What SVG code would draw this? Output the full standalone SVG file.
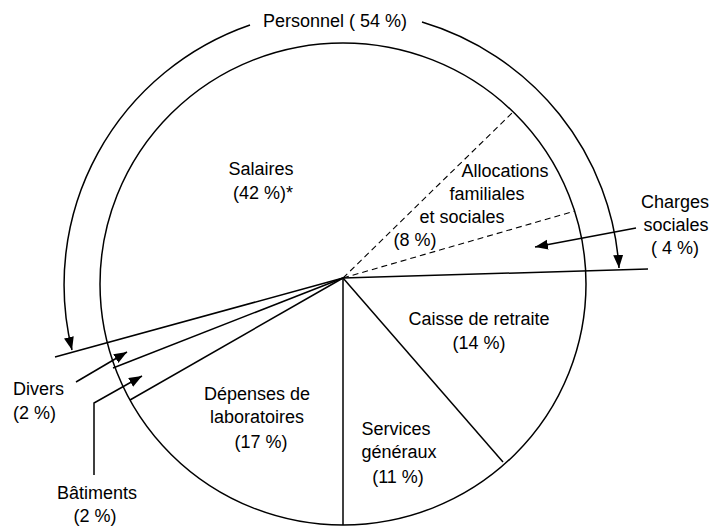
<svg xmlns="http://www.w3.org/2000/svg" width="715" height="528" viewBox="0 0 715 528">
  <style>
    text { font-family: "Liberation Sans", Arial, sans-serif; font-size: 18px; fill: #000; }
    .c { text-anchor: middle; }
    .s { text-anchor: start; }
    .ln { fill: none; stroke: #000; stroke-width: 1.5; }
    .dash { fill: none; stroke: #000; stroke-width: 1.1; stroke-dasharray: 6 4; }
    .arr { marker-end: url(#ah); }
  </style>
  <defs>
    <marker id="ah" markerUnits="userSpaceOnUse" markerWidth="14" markerHeight="12" refX="13" refY="5" orient="auto">
      <path d="M0,0 L13,5 L0,10 Z" fill="#000"/>
    </marker>
  </defs>
  <rect width="715" height="528" fill="#fff"/>

  <g id="pie">
    <ellipse class="ln" cx="343" cy="284" rx="243" ry="241"/>
  </g>

  <g id="connectors">
    <line class="ln" x1="343" y1="278" x2="55" y2="357"/>
    <line class="ln" x1="343" y1="278" x2="113" y2="368"/>
    <line class="ln" x1="343" y1="278" x2="130" y2="400"/>
    <line class="ln" x1="343" y1="278" x2="343" y2="525"/>
    <line class="ln" x1="343" y1="278" x2="503" y2="462"/>
    <line class="ln" x1="343" y1="278" x2="648" y2="269"/>
    <line class="dash" x1="343" y1="278" x2="512" y2="113"/>
    <line class="dash" x1="343" y1="278" x2="575" y2="211"/>
    <path class="ln arr" d="M250 25 A277 275 0 0 0 72 350"/>
    <path class="ln arr" d="M422 22 A277 275 0 0 1 619 268"/>
    <path class="ln arr" d="M76 382 L127 352"/>
    <path class="ln arr" d="M94 475 L94 403 L142 376"/>
    <path class="ln arr" d="M636 228 L535 247"/>
  </g>

  <g id="personnel"><text class="c" x="335" y="27">Personnel ( 54 %)</text></g>
  <g id="salaires">
    <text class="c" x="261" y="175">Salaires</text>
    <text class="c" x="263" y="199">(42 %)*</text>
  </g>
  <g id="allocations">
    <text class="c" x="505" y="177">Allocations</text>
    <text class="c" x="487" y="200">familiales</text>
    <text class="c" x="462" y="223">et sociales</text>
    <text class="c" x="415" y="246">(8 %)</text>
  </g>
  <g id="charges">
    <text class="c" x="675" y="208">Charges</text>
    <text class="c" x="676" y="231">sociales</text>
    <text class="c" x="675" y="254">( 4 %)</text>
  </g>
  <g id="caisse">
    <text class="c" x="479" y="325">Caisse de retraite</text>
    <text class="c" x="479" y="349">(14 %)</text>
  </g>
  <g id="services">
    <text class="c" x="396" y="435">Services</text>
    <text class="c" x="399" y="458">généraux</text>
    <text class="c" x="398" y="483">(11 %)</text>
  </g>
  <g id="depenses">
    <text class="c" x="257" y="400">Dépenses de</text>
    <text class="c" x="257" y="423">laboratoires</text>
    <text class="c" x="261" y="448">(17 %)</text>
  </g>
  <g id="divers">
    <text class="s" x="13" y="395">Divers</text>
    <text class="s" x="13" y="419">(2 %)</text>
  </g>
  <g id="batiments">
    <text class="c" x="97" y="499">Bâtiments</text>
    <text class="c" x="95" y="522">(2 %)</text>
  </g>
</svg>
